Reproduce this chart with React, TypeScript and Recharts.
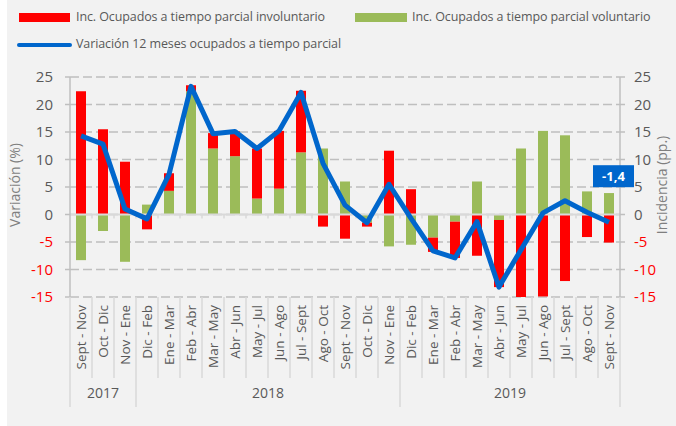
import React from "react";
import {
  ComposedChart,
  Bar,
  Line,
  XAxis,
  YAxis,
  CartesianGrid,
  ReferenceLine,
  LabelList,
} from "recharts";

const categories = [
  "Sept - Nov", "Oct - Dic", "Nov - Ene",
  "Dic - Feb", "Ene - Mar", "Feb - Abr", "Mar - May", "Abr - Jun", "May - Jul",
  "Jun - Ago", "Jul - Sept", "Ago - Oct", "Sept - Nov", "Oct - Dic", "Nov - Ene",
  "Dic - Feb", "Ene - Mar", "Feb - Abr", "Mar - May", "Abr - Jun", "May - Jul",
  "Jun - Ago", "Jul - Sept", "Ago - Oct", "Sept - Nov",
];

const involuntario = [
  22.4, 15.5, 9.6,
  -2.7, 3.2, 1.1, 2.8, 4.5, 9.1, 10.5, 11.2, -2.2, -4.4, -0.7, 11.6,
  4.6, -2.6, -6.6, -7.5, -12.2, -16.0, -14.9, -12.1, -4.1, -5.1,
];

const voluntario = [
  -8.3, -3.0, -8.6,
  1.8, 4.3, 22.4, 12.0, 10.6, 2.9, 4.7, 11.3, 12.0, 6.0, -1.5, -5.8,
  -5.5, -4.2, -1.3, 6.0, -1.0, 12.0, 15.2, 14.4, 4.2, 3.9,
];

const variacion = [
  14.3, 12.8, 1.0,
  -0.8, 7.3, 23.3, 14.7, 15.1, 12.0, 15.2, 22.2, 9.3, 1.7, -1.5, 5.5,
  -0.7, -6.6, -7.9, -1.3, -13.2, -6.4, 0.3, 2.5, 0.4, -1.4,
];

const years = [
  { label: "2017", count: 3 },
  { label: "2018", count: 12 },
  { label: "2019", count: 10 },
];

const yTicks = [-15, -10, -5, 0, 5, 10, 15, 20, 25];

const data = categories.map((cat, i) => ({
  cat,
  invol: involuntario[i],
  vol: voluntario[i],
  variacion: variacion[i],
}));

const W = 676;
const H = 426;
const MARGIN = { top: 77, right: 10, left: 10, bottom: 8 };
const LEFT_W = 60;
const RIGHT_W = 46;
const PLOT_W = W - MARGIN.left - MARGIN.right - LEFT_W - RIGHT_W;
const BAND = PLOT_W / categories.length;
const CAT_H = 81;
const YEAR_H = 40;

const FONT = "'Open Sans', sans-serif";
const GREY_TEXT = "#595959";
const AXIS_GREY = "#bfbfbf";

const yearStarts: Record<number, { label: string; count: number }> = {};
let acc = 0;
years.forEach((y) => {
  yearStarts[acc] = y;
  acc += y.count;
});

function NumTick(props: any) {
  const { x, y, payload, textAnchor } = props;
  const v = payload.value;
  return (
    <text
      x={x}
      y={y}
      dy="0.35em"
      textAnchor={textAnchor}
      fontFamily={FONT}
      fontSize={15}
      fill={v < 0 ? "#FF0000" : GREY_TEXT}
    >
      {v}
    </text>
  );
}

function CatTick(props: any) {
  const { x, y, payload, index } = props;
  const left = x - BAND / 2;
  const right = x + BAND / 2;
  return (
    <g>
      <line x1={left} y1={y} x2={left} y2={y + CAT_H} stroke="#d9d9d9" strokeWidth={1.5} />
      {index === categories.length - 1 && (
        <line x1={right} y1={y} x2={right} y2={y + CAT_H} stroke="#d9d9d9" strokeWidth={1.5} />
      )}
      <text
        x={x}
        y={y + 8}
        dy="0.35em"
        textAnchor="end"
        transform={`rotate(-90, ${x}, ${y + 8})`}
        fontFamily={FONT}
        fontSize={13.5}
        fill={GREY_TEXT}
      >
        {payload.value}
      </text>
    </g>
  );
}

function YearTick(props: any) {
  const { x, y, index } = props;
  const grp = yearStarts[index];
  const left = x - BAND / 2;
  const right = x + BAND / 2;
  return (
    <g>
      {grp && <line x1={left} y1={y} x2={left} y2={y + 29} stroke="#d9d9d9" strokeWidth={1.5} />}
      {index === categories.length - 1 && (
        <line x1={right} y1={y} x2={right} y2={y + 29} stroke="#d9d9d9" strokeWidth={1.5} />
      )}
      {grp && (
        <text
          x={x + ((grp.count - 1) / 2) * BAND}
          y={y + 15}
          dy="0.35em"
          textAnchor="middle"
          fontFamily={FONT}
          fontSize={14}
          fill={GREY_TEXT}
        >
          {grp.label}
        </text>
      )}
    </g>
  );
}

function ZeroAxis(props: any) {
  const { x1, y1, x2 } = props;
  const n = categories.length;
  const step = (x2 - x1) / n;
  const marks = [];
  for (let i = 1; i < n; i++) {
    const xx = x1 + step * i;
    marks.push(<line key={i} x1={xx} y1={y1} x2={xx} y2={y1 + 4} stroke="#d9d9d9" strokeWidth={1.5} />);
  }
  return (
    <g>
      <line x1={x1} y1={y1} x2={x2} y2={y1} stroke="#d9d9d9" strokeWidth={2} />
      {marks}
    </g>
  );
}

function AxisTitle(props: any) {
  const { viewBox, text, side } = props;
  const cx = side === "left" ? viewBox.x + 5 : viewBox.x + viewBox.width - 4;
  const cy = viewBox.y + viewBox.height / 2 - 2;
  return (
    <text
      x={cx}
      y={cy}
      dy="0.35em"
      textAnchor="middle"
      transform={`rotate(-90, ${cx}, ${cy})`}
      fontFamily={FONT}
      fontSize={14}
      fill="#7f7f7f"
    >
      {text}
    </text>
  );
}

function LastLabel(props: any) {
  const { x, y, value, index } = props;
  if (index !== categories.length - 1) return null;
  const bx = x - 16;
  const by = y - 57;
  return (
    <g>
      <rect x={bx} y={by} width={41} height={22} fill="#0066CC" />
      <text
        x={bx + 20.5}
        y={by + 11}
        dy="0.35em"
        textAnchor="middle"
        fontFamily={FONT}
        fontSize={13}
        fontWeight="bold"
        fill="#ffffff"
      >
        {Number(value).toFixed(1).replace(".", ",")}
      </text>
    </g>
  );
}

const legendText: React.CSSProperties = {
  position: "absolute",
  fontFamily: FONT,
  fontSize: 12.5,
  letterSpacing: "-0.1px",
  color: GREY_TEXT,
  lineHeight: "18px",
  whiteSpace: "nowrap",
};

export default function App() {
  return (
    <div style={{ position: "absolute", left: 0, top: 0, width: W, height: H, background: "#ffffff" }}>
      <div style={{ position: "absolute", left: 7, top: 0, width: W - 7, height: H, background: "#f2f2f2" }} />
      <div style={{ position: "absolute", left: 19, top: 13, width: 51, height: 9, background: "#FF0000" }} />
      <div style={{ ...legendText, left: 76, top: 8 }}>Inc. Ocupados a tiempo parcial involuntario</div>
      <div style={{ position: "absolute", left: 355, top: 13, width: 52, height: 9, background: "#9BBB59" }} />
      <div style={{ ...legendText, left: 412, top: 8 }}>Inc. Ocupados a tiempo parcial voluntario</div>
      <div style={{ position: "absolute", left: 17, top: 43, width: 55, height: 3.5, borderRadius: 2, background: "#0066CC" }} />
      <div style={{ ...legendText, left: 76, top: 35 }}>Variación 12 meses ocupados a tiempo parcial</div>
      <div style={{ position: "absolute", left: 0, top: 0 }}>
        <ComposedChart width={W} height={H} data={data} margin={MARGIN} stackOffset="sign">
          <CartesianGrid
            yAxisId="left"
            vertical={false}
            stroke={AXIS_GREY}
            strokeWidth={1.5}
            strokeDasharray="9 4"
          />
          <XAxis
            dataKey="cat"
            height={CAT_H}
            interval={0}
            axisLine={false}
            tickLine={false}
            tickSize={0}
            tickMargin={0}
            tick={<CatTick />}
          />
          <XAxis
            xAxisId="year"
            dataKey="cat"
            height={YEAR_H}
            interval={0}
            axisLine={false}
            tickLine={false}
            tickSize={0}
            tickMargin={0}
            tick={<YearTick />}
          />
          <YAxis
            yAxisId="left"
            orientation="left"
            width={LEFT_W}
            domain={[-15, 25]}
            ticks={yTicks}
            allowDataOverflow
            axisLine={{ stroke: AXIS_GREY, strokeWidth: 1.5 }}
            tickLine={{ stroke: AXIS_GREY, strokeWidth: 1.5 }}
            tickSize={5}
            tickMargin={12}
            tick={<NumTick />}
            label={<AxisTitle text="Variación (%)" side="left" />}
          />
          <YAxis
            yAxisId="right"
            orientation="right"
            width={RIGHT_W}
            domain={[-15, 25]}
            ticks={yTicks}
            allowDataOverflow
            axisLine={{ stroke: AXIS_GREY, strokeWidth: 1.5 }}
            tickLine={{ stroke: AXIS_GREY, strokeWidth: 1.5 }}
            tickSize={5}
            tickMargin={9}
            tick={<NumTick />}
            label={<AxisTitle text="Incidencia (pp.)" side="right" />}
          />
          <ReferenceLine yAxisId="left" y={0} shape={<ZeroAxis />} />
          <Bar dataKey="vol" yAxisId="right" stackId="a" fill="#9BBB59" barSize={10} isAnimationActive={false} />
          <Bar dataKey="invol" yAxisId="right" stackId="a" fill="#FF0000" barSize={10} isAnimationActive={false} />
          <Line
            dataKey="variacion"
            yAxisId="left"
            type="linear"
            stroke="#0066CC"
            strokeWidth={5}
            strokeLinejoin="round"
            dot={false}
            isAnimationActive={false}
          >
            <LabelList dataKey="variacion" content={<LastLabel />} />
          </Line>
        </ComposedChart>
      </div>
    </div>
  );
}
